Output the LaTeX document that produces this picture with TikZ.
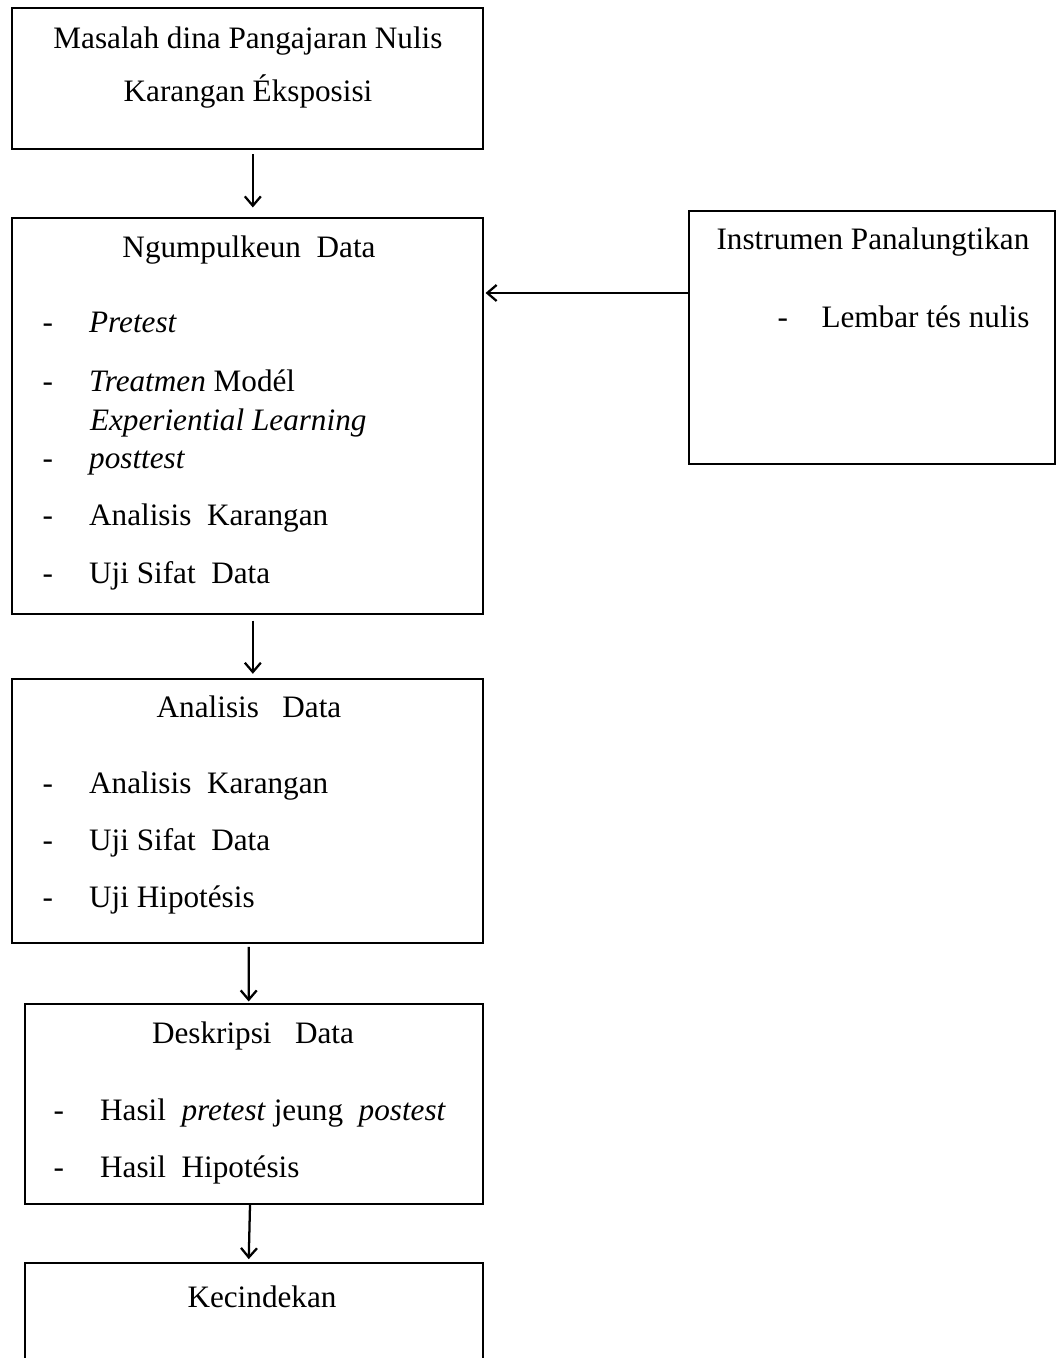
\documentclass[tikz,border=0pt]{standalone}
\usepackage{fontspec}
\setmainfont{Liberation Serif}
\usetikzlibrary{arrows.meta,fit}

\tikzset{every picture/.style={line width=0.75pt}}
\tikzset{
  box/.style={draw, line width=1.8pt, inner sep=0pt},
  txt/.style={anchor=base, inner sep=0pt, font=\fontsize{23.4}{28}\selectfont},
  item/.style={txt, anchor=base west},
  arr/.style={-{Straight Barb[length=7pt,width=12pt,line width=1.7pt]}, line width=1.7pt},
}
\newcommand{\dashitem}{\makebox[35pt][l]{-}}

\begin{document}
\begin{tikzpicture}[x=0.75pt,y=0.75pt,yscale=-1,xscale=1]
	\useasboundingbox (0,0) rectangle (1058,1358);
	\clip (0,0) rectangle (1058,1358);
	
	%Box Masalah
	\node [box, fit={(12,8) (483,149)}] (masalah) {};
	\node [txt] (masalahA) at (248,49) {Masalah dina Pangajaran Nulis};
	\node [txt] (masalahB) at (248,102) {Karangan Éksposisi};
	
	%Box Ngumpulkeun Data
	\node [box, fit={(12,218) (483,614)}] (ngumpul) {};
	\node [txt] (ngumpulT) at (249,258) {Ngumpulkeun\ \ Data};
	\node [item] (ng1) at (42,333) {\dashitem\textit{Pretest}};
	\node [item] (ng2) at (42,392) {\dashitem\textit{Treatmen} Modél};
	\node [item] (ng2b) at (89.5,430) {\textit{Experiential Learning}};
	\node [item] (ng3) at (42,468) {\dashitem\textit{posttest}};
	\node [item] (ng4) at (42,525) {\dashitem Analisis\ \ Karangan};
	\node [item] (ng5) at (42,583) {\dashitem Uji Sifat\ \ Data};
	
	%Box Instrumen
	\node [box, line width=1.3pt, fit={(689,211) (1055,464)}] (instrumen) {};
	\node [txt] (instrumenT) at (873,250) {Instrumen\ Panalungtikan};
	\node [item] (in1) at (777,328) {\makebox[33pt][l]{-}Lembar\ tés nulis};
	
	%Box Analisis Data
	\node [box, fit={(12,679) (483,943)}] (analisis) {};
	\node [txt] (analisisT) at (249,717) {Analisis\ \ \ Data};
	\node [item] (an1) at (42,793) {\dashitem Analisis\ \ Karangan};
	\node [item] (an2) at (42,850) {\dashitem Uji Sifat\ \ Data};
	\node [item] (an3) at (42,907) {\dashitem Uji Hipotésis};
	
	%Box Deskripsi Data
	\node [box, fit={(25,1004) (483,1204)}] (deskripsi) {};
	\node [txt] (deskripsiT) at (253,1043) {Deskripsi\ \ \ Data};
	\node [item] (de1) at (53,1120) {\dashitem Hasil\ \ \textit{pretest} jeung\ \ \textit{postest}};
	\node [item] (de2) at (53,1177) {\dashitem Hasil\ \ Hipotésis};
	
	%Box Kecindekan
	\node [box, fit={(25,1263) (483,1420)}] (kecindekan) {};
	\node [txt] (kecindekanT) at (262,1307) {Kecindekan};
	
	%Arrows
	\draw [arr, shorten <=3pt, shorten >=7pt] ([xshift=4pt]masalah.south) -- ([xshift=4pt]ngumpul.north) ;
	\draw [arr, shorten <=4pt, shorten >=3pt] ([xshift=4pt]ngumpul.south) -- ([xshift=4pt]analisis.north) ;
	\draw [arr, shorten <=2pt, shorten >=1pt] ([xshift=1pt]analisis.south) -- ([xshift=-4pt]deskripsi.north) ;
	\draw [arr, shorten <=-1pt, shorten >=2pt] ([xshift=-3pt]deskripsi.south) -- ([xshift=-4pt]kecindekan.north) ;
	\coordinate (instr) at (600,293);
	\draw [arr, shorten >=1pt] (instr -| instrumen.west) -- (instr -| ngumpul.east) ;
	
\end{tikzpicture}
\end{document}
